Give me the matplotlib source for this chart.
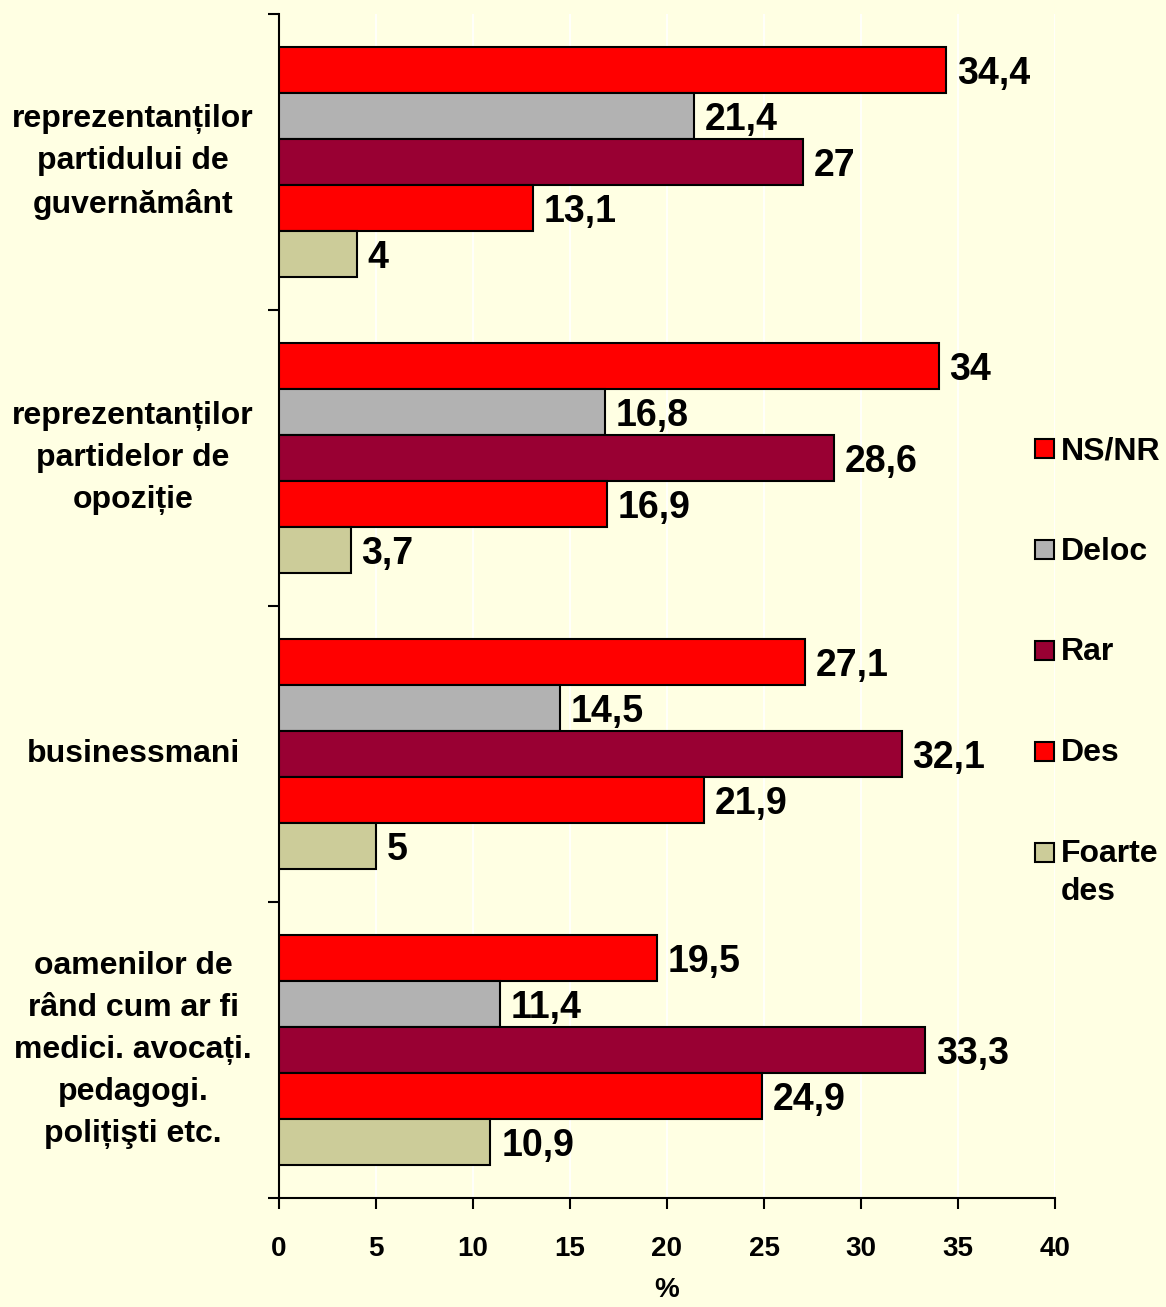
import matplotlib.pyplot as plt
from matplotlib.patches import Rectangle
import numpy as np

categories = ['reprezentanților\npartidului de\nguvernământ',
              'reprezentanților\npartidelor de\nopoziție',
              'businessmani',
              'oamenilor de\nrând cum ar fi\nmedici. avocați.\npedagogi.\npolițişti etc.']
series = ['NS/NR', 'Deloc', 'Rar', 'Des', 'Foarte\ndes']
ns_nr = [34.4, 34, 27.1, 19.5]
deloc = [21.4, 16.8, 14.5, 11.4]
rar = [27, 28.6, 32.1, 33.3]
des = [13.1, 16.9, 21.9, 24.9]
foarte_des = [4, 3.7, 5, 10.9]
colors = ['#FF0000', '#B2B2B2', '#990033', '#FF0000', '#CCCC99']

bg = '#FFFFE3'
plt.rcParams['font.family'] = ['Liberation Sans', 'DejaVu Sans']
plt.rcParams['font.weight'] = 'bold'

W, H = 1166, 1307
fig = plt.figure(figsize=(W / 100, H / 100), dpi=100, facecolor=bg)
ax = fig.add_axes([279 / W, 1 - 1198 / H, 776 / W, 1184 / H])
ax.set_facecolor(bg)

h = 0.1554
y = np.arange(len(categories))
for j, vals in enumerate([ns_nr, deloc, rar, des, foarte_des]):
    pos = y + (j - 2) * h
    ax.barh(pos, vals, height=h, color=colors[j], edgecolor='black', linewidth=1.5,
            zorder=3)
    for p, v in zip(pos, vals):
        ax.text(v + 0.55, p + 0.012, str(v).replace('.', ','), va='center', ha='left',
                fontsize=27, fontweight='bold', zorder=4)

ax.set_xlim(0, 40)
ax.set_ylim(3.5, -0.5)
ax.set_xticks(range(0, 41, 5))
ax.set_yticks(np.arange(-0.5, 4, 1))
ax.set_yticklabels([])
ax.tick_params(axis='x', direction='out', length=8, width=1.5, pad=19, labelsize=20)
ax.tick_params(axis='y', direction='out', length=8, width=1.5)
ax.xaxis.grid(True, color='white', linewidth=1.2, zorder=0)
for s in ['top', 'right']:
    ax.spines[s].set_visible(False)
for s in ['left', 'bottom']:
    ax.spines[s].set_linewidth(1.5)
ax.set_xlabel('%', fontsize=20, fontweight='bold', labelpad=11)

for i, c in enumerate(categories):
    ax.text(-0.188, i, c, transform=ax.get_yaxis_transform(), ha='center',
            va='center', fontsize=23, fontweight='bold', linespacing=1.52)

# legend drawn by hand so the marker sits beside the first line of each label
for k, (name, col) in enumerate(zip(series, colors)):
    yc = 449 + k * 100.75
    fig.add_artist(Rectangle((1035 / W, 1 - (yc + 9.5) / H), 19 / W, 19 / H,
                             transform=fig.transFigure, facecolor=col,
                             edgecolor='black', linewidth=1.5))
    for m, line in enumerate(name.split('\n')):
        fig.text(1061 / W, 1 - (yc + 2 + m * 38) / H, line, ha='left', va='center',
                 fontsize=23, fontweight='bold')

fig.savefig('out.png', dpi=100, facecolor=bg)
